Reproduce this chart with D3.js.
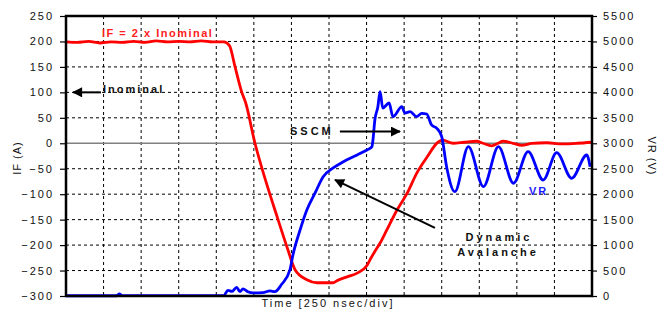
<!DOCTYPE html>
<html>
<head>
<meta charset="utf-8">
<script src="https://cdn.jsdelivr.net/npm/d3@7"></script>
<style>
  body { margin: 0; background: #fff; }
  text { font-family: "Liberation Sans", Arial, sans-serif; }
  .tick-label { font-size: 11px; letter-spacing: 2px; fill: #111; }
  .grid { stroke: #000; stroke-width: 1; stroke-dasharray: 3,3; }
</style>
</head>
<body>
<div id="chart"></div>
<script>
// CONST and GLOBALS
const width = 657,
  height = 312,
  margin = { top: 16, bottom: 16, left: 66, right: 65 };

// data: time in divisions (250 ns/div), IF in A, VR in V
const timeDivs = d3.range(0, 15);
const ifTicks = d3.range(-300, 251, 50);
const vrTicks = d3.range(0, 5501, 500);

const ifTrace = [
  [0, 199], [0.3, 198], [0.6, 200], [0.9, 197], [1.2, 199], [1.5, 198], [1.8, 200],
  [2.1, 198], [2.4, 201], [2.7, 199], [3.0, 200], [3.3, 199], [3.6, 201], [3.9, 199],
  [4.2, 199], [4.35, 192], [4.5, 150], [4.68, 100], [4.78, 80], [5.03, 0], [5.3, -70],
  [5.6, -140], [5.91, -210], [6.1, -249], [6.41, -268], [6.68, -274], [7.11, -274],
  [7.21, -270], [7.5, -262], [7.75, -255], [8.01, -240], [8.09, -229], [8.2, -215],
  [8.36, -196], [8.54, -170], [8.81, -131], [9.08, -98], [9.34, -58], [9.61, -27],
  [9.9, 2], [10.03, 6], [10.3, 0], [10.6, 2], [10.93, 4], [11.1, 0], [11.33, -5],
  [11.5, 0], [11.63, 4], [11.9, 0], [12.13, -4], [12.4, 0], [12.8, 1], [13.2, -1],
  [13.6, 0], [14, 2]
];

const vrTrace = [
  [0, 5], [1.35, 5], [1.42, 40], [1.5, 8], [4.2, 10], [4.31, 110], [4.42, 90],
  [4.54, 170], [4.63, 85], [4.71, 140], [4.84, 85], [4.98, 60], [5.24, 65], [5.43, 100],
  [5.56, 85], [5.74, 230], [5.96, 511], [6.04, 806], [6.23, 1297], [6.41, 1690],
  [6.63, 2024], [6.84, 2338], [7.11, 2515], [7.37, 2633], [7.75, 2770], [8.01, 2868],
  [8.14, 2927], [8.17, 3065], [8.22, 3458], [8.30, 3713], [8.36, 4013], [8.43, 3693],
  [8.60, 3791], [8.70, 3523], [8.94, 3719], [9.02, 3595], [9.16, 3620], [9.33, 3523],
  [9.47, 3588], [9.60, 3575], [9.73, 3359], [9.87, 3294], [10.0, 3130], [10.13, 2540],
  [10.35, 2049], [10.71, 2933], [11.11, 2148], [11.51, 2933], [11.91, 2215],
  [12.30, 2835], [12.70, 2279], [13.06, 2815], [13.46, 2312], [13.86, 2770], [13.95, 2540]
];

// SCALES
const xScale = d3.scaleLinear().domain([0, 14]).range([margin.left, width - margin.right]);
const yScale = d3.scaleLinear().domain([-300, 250]).range([height - margin.bottom, margin.top]);
const vScale = d3.scaleLinear().domain([0, 5500]).range([height - margin.bottom, margin.top]);

const svg = d3.select('#chart').append('svg')
  .attr('width', width)
  .attr('height', height);

const defs = svg.append('defs');
defs.append('marker')
  .attr('id', 'head')
  .attr('viewBox', '0 0 10 10')
  .attr('refX', 9).attr('refY', 5)
  .attr('markerWidth', 6).attr('markerHeight', 5)
  .attr('markerUnits', 'strokeWidth')
  .attr('orient', 'auto')
  .append('path').attr('d', 'M0,0 L10,5 L0,10 Z').attr('fill', '#000');

// GRID
svg.append('g').selectAll('line')
  .data(ifTicks.filter(d => d !== 0 && d !== 250 && d !== -300))
  .join('line')
  .attr('class', 'grid')
  .attr('x1', xScale(0)).attr('x2', xScale(14))
  .attr('y1', d => yScale(d)).attr('y2', d => yScale(d));

svg.append('g').selectAll('line')
  .data(timeDivs.slice(1, -1))
  .join('line')
  .attr('class', 'grid')
  .attr('x1', d => xScale(d)).attr('x2', d => xScale(d))
  .attr('y1', yScale(250)).attr('y2', yScale(-300));

// zero line
svg.append('line')
  .attr('x1', xScale(0)).attr('x2', xScale(14))
  .attr('y1', yScale(0)).attr('y2', yScale(0))
  .attr('stroke', '#808080').attr('stroke-width', 1.5);

// AXES
const leftAxis = d3.axisLeft(yScale).tickValues(ifTicks).tickFormat(d3.format('d')).tickSize(6).tickPadding(6);
const rightAxis = d3.axisRight(vScale).tickValues(vrTicks).tickFormat(d3.format('d')).tickSize(5).tickPadding(6);

const gl = svg.append('g').attr('transform', `translate(${margin.left},0)`).call(leftAxis);
const gr = svg.append('g').attr('transform', `translate(${width - margin.right},0)`).call(rightAxis);
[gl, gr].forEach(g => {
  g.select('.domain').remove();
  g.selectAll('.tick line').attr('stroke', '#000').attr('stroke-width', 1.2);
  g.selectAll('.tick text').attr('class', 'tick-label').attr('font-size', null).attr('font-family', null);
});

// TRACES
const line = d3.line()
  .x(d => xScale(d[0]))
  .curve(d3.curveMonotoneX);

svg.append('path')
  .datum(ifTrace)
  .attr('fill', 'none')
  .attr('stroke', '#ff0000')
  .attr('stroke-width', 2.8)
  .attr('stroke-linejoin', 'round')
  .attr('d', line.y(d => yScale(d[1])));

svg.append('path')
  .datum(vrTrace)
  .attr('fill', 'none')
  .attr('stroke', '#0000ff')
  .attr('stroke-width', 2.8)
  .attr('stroke-linejoin', 'round')
  .attr('d', line.y(d => vScale(d[1])));

// frame
svg.append('rect')
  .attr('x', xScale(0)).attr('y', yScale(250))
  .attr('width', xScale(14) - xScale(0))
  .attr('height', yScale(-300) - yScale(250))
  .attr('fill', 'none')
  .attr('stroke', '#000')
  .attr('stroke-width', 2.5);

// ANNOTATIONS
const arrows = [
  { x1: 0.93, y1: 100, x2: 0.19, y2: 100 },
  { x1: 7.29, y1: 23, x2: 8.89, y2: 23 },
  { x1: 9.82, y1: -166, x2: 7.16, y2: -72 }
];
svg.append('g').selectAll('line')
  .data(arrows)
  .join('line')
  .attr('x1', d => xScale(d.x1)).attr('y1', d => yScale(d.y1))
  .attr('x2', d => xScale(d.x2)).attr('y2', d => yScale(d.y2))
  .attr('stroke', '#000')
  .attr('stroke-width', 2)
  .attr('marker-end', 'url(#head)');

const notes = [
  { t: 'IF = 2 x Inominal', x: 102, y: 37, c: '#ff2020', ls: 1.5, a: 'start' },
  { t: 'Inominal', x: 103, y: 93, c: '#111', ls: 2, a: 'start' },
  { t: 'SSCM', x: 290, y: 135, c: '#111', ls: 3, a: 'start' },
  { t: 'Dynamic', x: 499, y: 241, c: '#111', ls: 3, a: 'middle' },
  { t: 'Avalanche', x: 498, y: 256, c: '#111', ls: 3, a: 'middle' },
  { t: 'VR', x: 529, y: 195, c: '#1a1aff', ls: 2, a: 'start' }
];
svg.append('g').selectAll('text')
  .data(notes)
  .join('text')
  .attr('x', d => d.x).attr('y', d => d.y)
  .attr('text-anchor', d => d.a)
  .attr('font-size', 11)
  .attr('font-weight', 'bold')
  .attr('letter-spacing', d => d.ls)
  .attr('fill', d => d.c)
  .text(d => d.t);

// axis titles
svg.append('text')
  .attr('x', 328).attr('y', 307)
  .attr('text-anchor', 'middle')
  .attr('font-size', 11)
  .attr('letter-spacing', 2)
  .attr('fill', '#111')
  .text('Time [250 nsec/div]');

svg.append('text')
  .attr('transform', 'translate(21,158) rotate(-90)')
  .attr('text-anchor', 'middle')
  .attr('font-size', 11)
  .attr('letter-spacing', 1)
  .attr('fill', '#111')
  .text('IF (A)');

svg.append('text')
  .attr('transform', 'translate(648,156) rotate(90)')
  .attr('text-anchor', 'middle')
  .attr('font-size', 11)
  .attr('letter-spacing', 1)
  .attr('fill', '#111')
  .text('VR (V)');
</script>
</body>
</html>
